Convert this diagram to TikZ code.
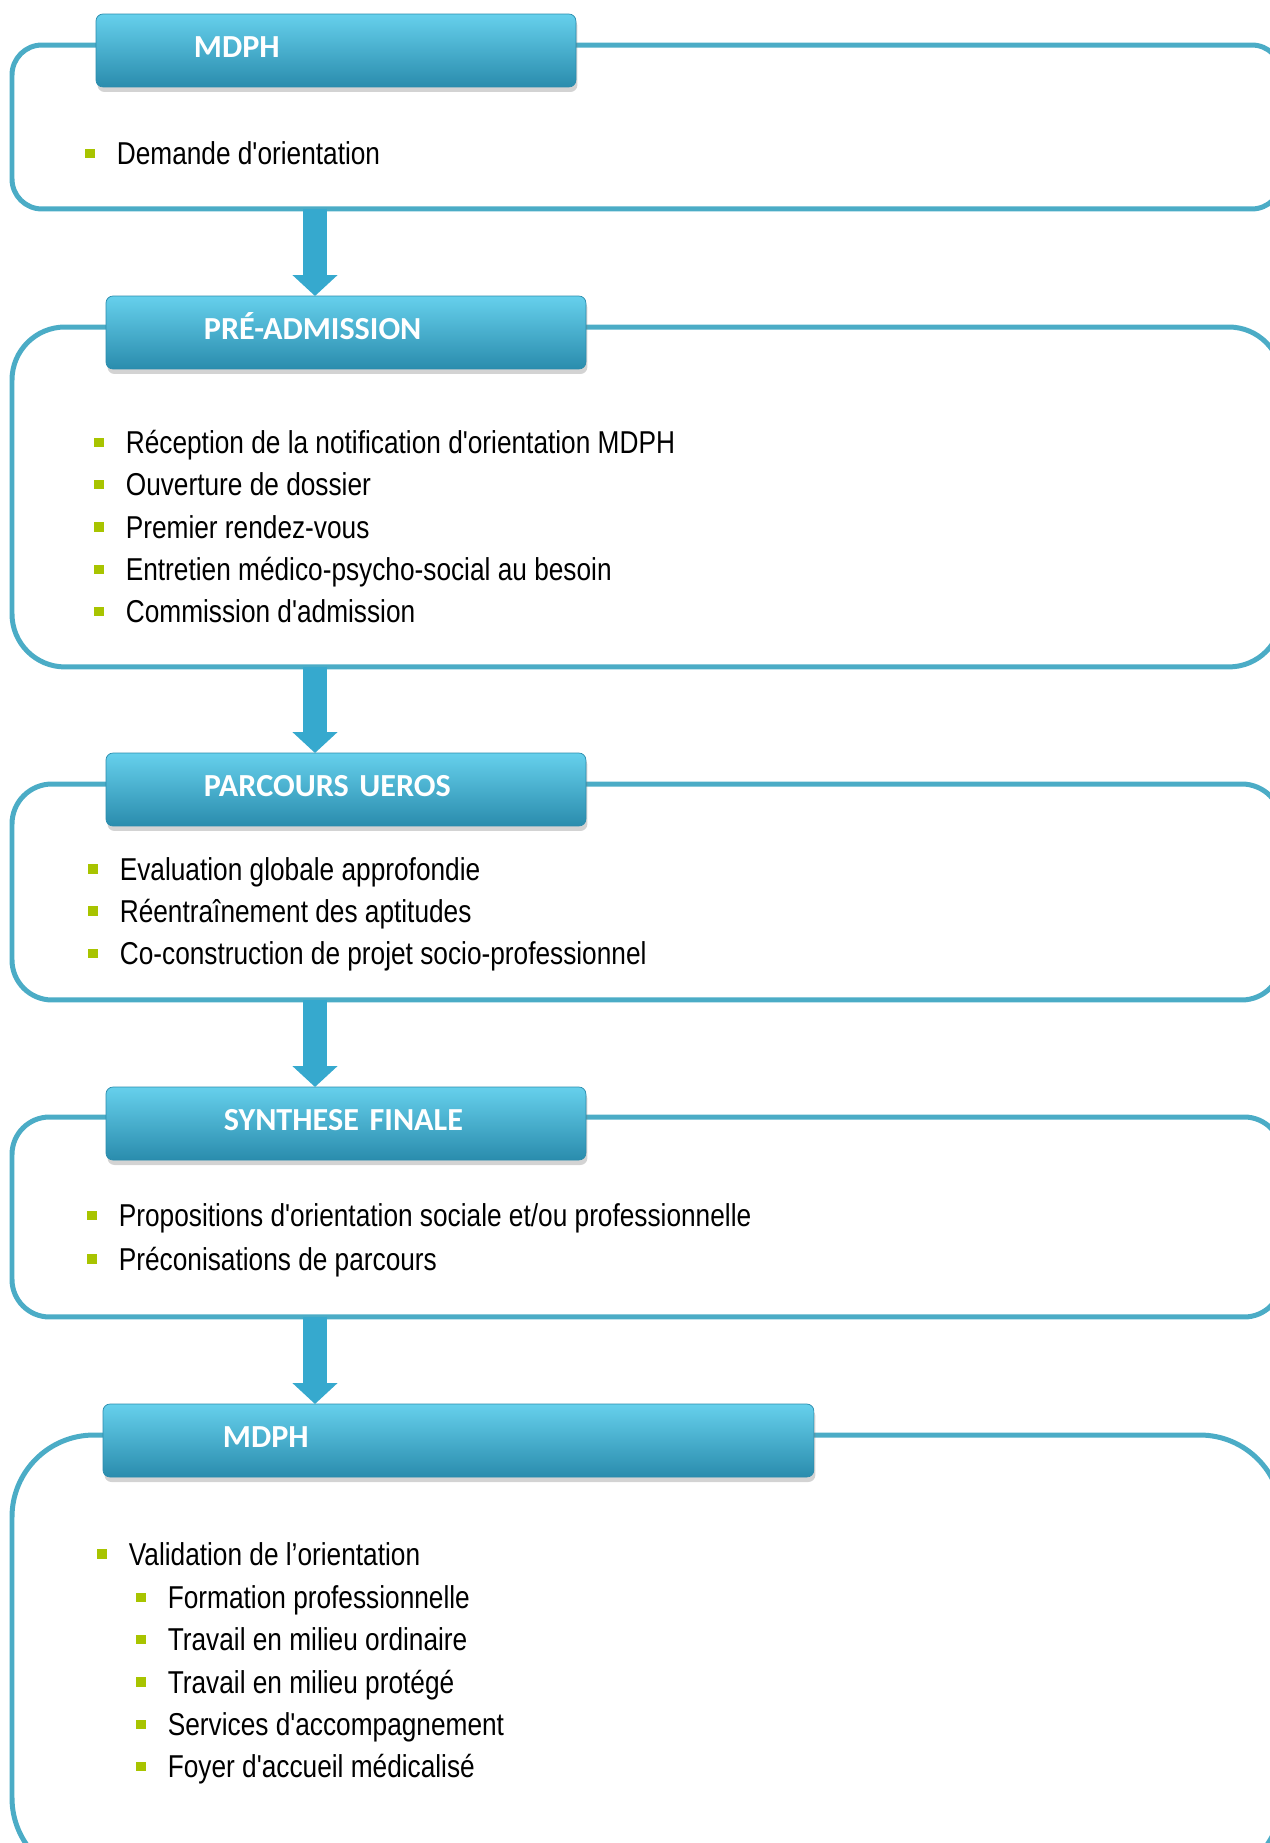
\documentclass[tikz,border=0pt]{standalone}
\usepackage{fontspec}
\setmainfont{Liberation Sans}[FakeStretch=0.83, Ligatures=TeXOff]
\newfontfamily\hdrfont{Carlito}[BoldFont=* Bold]
\usetikzlibrary{shadows,arrows.meta}

\definecolor{frameblue}{HTML}{4BACC6}
\definecolor{hdrtop}{HTML}{66D0EC}
\definecolor{hdrmid}{HTML}{3BB2D6}
\definecolor{hdrbot}{HTML}{2A8CAD}
\definecolor{arrowblue}{HTML}{36A9CE}
\definecolor{bulletgreen}{HTML}{A8C400}

\newcommand{\bul}{\textcolor{bulletgreen}{\rule[3.7pt]{0.19cm}{0.19cm}}\hspace{0.44cm}}

\tikzset{
	stagebox/.style={draw=frameblue, line width=0.1cm, anchor=north west, inner sep=0, outer sep=0, minimum width=25.4cm},
	hdr/.style={anchor=north west, inner xsep=0, outer sep=0, align=left, minimum height=1.46cm,
		text height=0.34cm, text depth=0.05cm,
		top color=hdrtop, middle color=hdrmid, bottom color=hdrbot, draw=hdrbot, line width=0.4pt,
		rounded corners=0.14cm, text=white, font=\hdrfont\bfseries\fontsize{18.3}{21}\selectfont,
		drop shadow={shadow xshift=0.03cm, shadow yshift=-0.1cm, opacity=0.35}},
	entry/.style={anchor=base west, inner sep=0, font=\fontsize{18}{22}\selectfont},
	downarrow/.style={draw=arrowblue, line width=0.47cm, -{Triangle[width=0.88cm,length=0.42cm]}}
}

\begin{document}
\begin{tikzpicture}[x=0.02cm, y=-0.02cm]

	\useasboundingbox (0,0) rectangle (1269,1843);	% page size

	% frames
	\node[stagebox, rounded corners=0.6cm, minimum height=3.28cm] (f1) at (12,45) {};
	\node[stagebox, rounded corners=1.06cm, minimum height=6.8cm] (f2) at (12,327) {};
	\node[stagebox, rounded corners=0.8cm, minimum height=4.32cm] (f3) at (12,784) {};
	\node[stagebox, rounded corners=0.75cm, minimum height=4cm] (f4) at (12,1117) {};
	\node[stagebox, rounded corners=1.64cm, minimum height=8.9cm] (f5) at (12,1435) {};

	% headers
	\node[hdr, text width=9.6cm] (h1) at (96,14) {\hspace*{1.96cm}MDPH};
	\node[hdr, text width=9.6cm] (h2) at (106,296) {\hspace*{1.96cm}PRÉ-ADMISSION};
	\node[hdr, text width=9.6cm] (h3) at (106,753) {\hspace*{1.96cm}PARCOURS UEROS};
	\node[hdr, text width=9.6cm] (h4) at (106,1087) {\hspace*{2.36cm}SYNTHESE FINALE};
	\node[hdr, text width=14.22cm] (h5) at (103,1404) {\hspace*{2.4cm}MDPH};

	% arrows between the stages
	\coordinate (ax) at (315,0);
	\draw[downarrow] (f1.south -| ax) -- (h2.north -| ax);
	\draw[downarrow] (f2.south -| ax) -- (h3.north -| ax);
	\draw[downarrow] (f3.south -| ax) -- (h4.north -| ax);
	\draw[downarrow] (f4.south -| ax) -- (h5.north -| ax);

	% stage 1
	\node[entry] (e11) at (85,164.5) {\bul Demande d'orientation};

	% stage 2
	\node[entry] (e21) at (94,453.6) {\bul Réception de la notification d'orientation MDPH};
	\node[entry] (e22) at (94,495.9) {\bul Ouverture de dossier};
	\node[entry] (e23) at (94,538.2) {\bul Premier rendez-vous};
	\node[entry] (e24) at (94,580.5) {\bul Entretien médico-psycho-social au besoin};
	\node[entry] (e25) at (94,622.8) {\bul Commission d'admission};

	% stage 3
	\node[entry] (e31) at (88,880) {\bul Evaluation globale approfondie};
	\node[entry] (e32) at (88,922.4) {\bul Réentraînement des aptitudes};
	\node[entry] (e33) at (88,964.7) {\bul Co-construction de projet socio-professionnel};

	% stage 4
	\node[entry] (e41) at (87,1226.7) {\bul Propositions d'orientation sociale et/ou professionnelle};
	\node[entry] (e42) at (87,1270.2) {\bul Préconisations de parcours};

	% stage 5
	\node[entry] (e51) at (97,1565) {\bul Validation de l’orientation};
	\node[entry] (e52) at (136,1608.6) {\bul Formation professionnelle};
	\node[entry] (e53) at (136,1650.9) {\bul Travail en milieu ordinaire};
	\node[entry] (e54) at (136,1693.2) {\bul Travail en milieu protégé};
	\node[entry] (e55) at (136,1735.5) {\bul Services d'accompagnement};
	\node[entry] (e56) at (136,1777.8) {\bul Foyer d'accueil médicalisé};

\end{tikzpicture}
\end{document}
